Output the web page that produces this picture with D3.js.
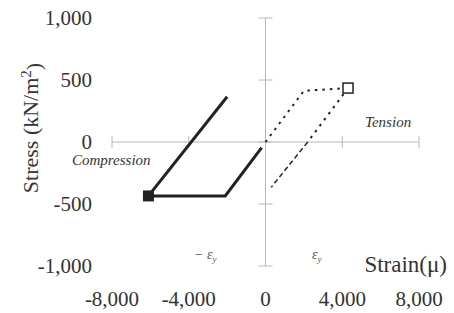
<!DOCTYPE html>
<html>
<head>
<script src="https://d3js.org/d3.v7.min.js"></script>
</head>
<body style="margin:0">
<script>
        const width = 454;
        const height = 313;

        // tick values
        const xTicks = [-8000, -4000, 0, 4000, 8000];
        const yTicks = [-1000, -500, 0, 500, 1000];

        // compression path (solid)
        const compStrainA = [-200, -2100, -6100];
        const compStressA = [-45, -435, -435];
        const compStrainB = [-6100, -2000];
        const compStressB = [-435, 365];

        // tension path (dotted, then dashed below zero)
        const tensStrainUp = [0, 2000, 4300];
        const tensStressUp = [0, 413, 435];
        const tensStrainDown = [4300, 2200];
        const tensStressDown = [435, 0];
        const tensStrainTail = [2200, 300];
        const tensStressTail = [0, -365];

        const x = d3.scaleLinear().domain([-8000, 8000]).range([112, 419]);
        const y = d3.scaleLinear().domain([-1000, 1000]).range([266, 18]);

        const svg = d3.select("body").append("svg")
            .attr("width", width)
            .attr("height", height)
            .style("display", "block");

        // plain hyphen for negatives, like the original
        const fmt = v => (v < 0 ? "-" : "") + d3.format(",")(Math.abs(v));
        const axisColor = "#b8b8b8";
        const textColor = "#333";

        // font-family and size go in one style string
        const font = (size, italic) =>
            `font-family: "Liberation Serif", monospace; font-size: ${size}px;` +
            (italic ? " font-style: italic;" : "");

        // axes crossing at origin
        svg.append("line")
            .attr("x1", x(-8000)).attr("x2", x(8000))
            .attr("y1", y(0)).attr("y2", y(0))
            .attr("stroke", axisColor).attr("stroke-width", 1);
        svg.append("line")
            .attr("x1", x(0)).attr("x2", x(0))
            .attr("y1", y(-1000)).attr("y2", y(1000))
            .attr("stroke", axisColor).attr("stroke-width", 1);

        svg.append("g").selectAll("line")
            .data(xTicks)
            .enter().append("line")
            .attr("x1", d => x(d)).attr("x2", d => x(d))
            .attr("y1", y(0) - 6).attr("y2", y(0) + 6)
            .attr("stroke", axisColor);

        svg.append("g").selectAll("line")
            .data(yTicks)
            .enter().append("line")
            .attr("x1", x(0) - 7).attr("x2", x(0) + 7)
            .attr("y1", d => y(d)).attr("y2", d => y(d))
            .attr("stroke", axisColor);

        // tick labels
        svg.append("g").selectAll("text")
            .data(yTicks)
            .enter().append("text")
            .attr("style", font(21))
            .attr("fill", textColor)
            .attr("x", 92)
            .attr("y", d => y(d))
            .attr("dy", "0.34em")
            .attr("text-anchor", "end")
            .text(d => fmt(d));

        svg.append("g").selectAll("text")
            .data(xTicks)
            .enter().append("text")
            .attr("style", font(21))
            .attr("fill", textColor)
            .attr("x", d => x(d))
            .attr("y", 306)
            .attr("text-anchor", "middle")
            .text(d => fmt(d));

        // axis titles
        const yTitle = svg.append("text")
            .attr("style", font(22))
            .attr("fill", textColor)
            .attr("transform", "translate(38,128) rotate(-90)")
            .attr("text-anchor", "middle");
        yTitle.append("tspan").text("Stress (kN/m");
        yTitle.append("tspan").attr("dy", "-0.45em").attr("font-size", 15).text("2");
        yTitle.append("tspan").attr("dy", "0.45em").text(")");

        svg.append("text")
            .attr("style", font(23))
            .attr("fill", textColor)
            .attr("x", 447).attr("y", 272)
            .attr("text-anchor", "end")
            .text("Strain(\u03bc)");

        // annotations
        svg.append("text")
            .attr("style", font(15, true))
            .attr("fill", textColor)
            .attr("x", 72).attr("y", 165)
            .text("Compression");
        svg.append("text")
            .attr("style", font(15, true))
            .attr("fill", textColor)
            .attr("x", 365).attr("y", 127)
            .text("Tension");

        const epsM = svg.append("text")
            .attr("style", font(14, true))
            .attr("fill", "#555")
            .attr("x", 194).attr("y", 259);
        epsM.append("tspan").text("\u2212 \u03b5");
        epsM.append("tspan").attr("dy", "3").attr("font-size", 9).text("y");

        const epsP = svg.append("text")
            .attr("style", font(14, true))
            .attr("fill", "#555")
            .attr("x", 312).attr("y", 259);
        epsP.append("tspan").text("\u03b5");
        epsP.append("tspan").attr("dy", "3").attr("font-size", 9).text("y");

        // lines
        const line = d3.line().x(d => x(d[0])).y(d => y(d[1]));
        const pts = (xs, ys) => xs.map((v, i) => [v, ys[i]]);
        const ink = "#222";

        svg.append("path")
            .attr("d", line(pts(compStrainA, compStressA)))
            .attr("fill", "none").attr("stroke", ink).attr("stroke-width", 3);
        svg.append("path")
            .attr("d", line(pts(compStrainB, compStressB)))
            .attr("fill", "none").attr("stroke", ink).attr("stroke-width", 3);

        svg.append("path")
            .attr("d", line(pts(tensStrainUp, tensStressUp)))
            .attr("fill", "none").attr("stroke", ink).attr("stroke-width", 2)
            .attr("stroke-dasharray", "2.5,5");
        svg.append("path")
            .attr("d", line(pts(tensStrainDown, tensStressDown)))
            .attr("fill", "none").attr("stroke", ink).attr("stroke-width", 2)
            .attr("stroke-dasharray", "2.5,5");
        svg.append("path")
            .attr("d", line(pts(tensStrainTail, tensStressTail)))
            .attr("fill", "none").attr("stroke", ink).attr("stroke-width", 1.5)
            .attr("stroke-dasharray", "5,3");

        // markers
        svg.append("rect")
            .attr("x", x(compStrainB[0]) - 5.5).attr("y", y(compStressB[0]) - 5.5)
            .attr("width", 11).attr("height", 11)
            .attr("fill", ink);
        svg.append("rect")
            .attr("x", x(tensStrainUp[2]) - 5).attr("y", y(tensStressUp[2]) - 5)
            .attr("width", 10).attr("height", 10)
            .attr("fill", "#fff").attr("stroke", ink).attr("stroke-width", 1.5);
</script>
</body>
</html>
